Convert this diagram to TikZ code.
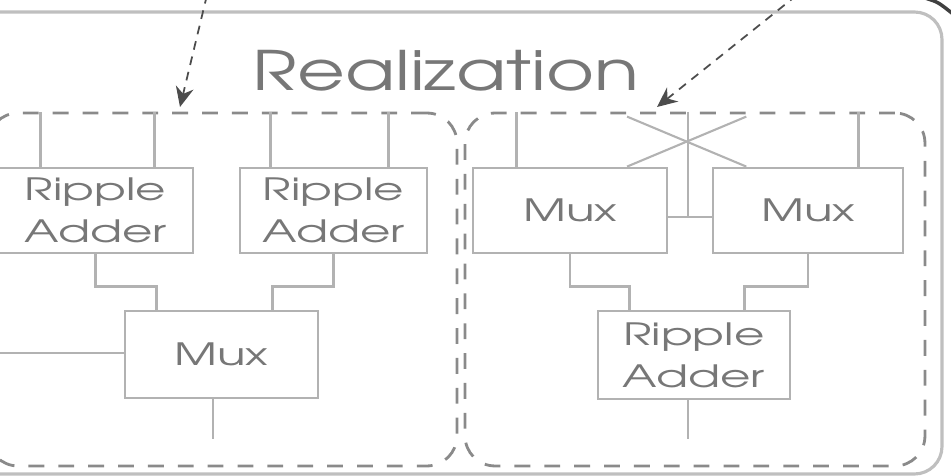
\documentclass[tikz,border=0pt]{standalone}
\usepackage{fontspec}
\setmainfont{TeX Gyre Adventor}
\newfontfamily\blockfont[FakeStretch=1.52]{TeX Gyre Adventor}
\newfontfamily\titlefont[FakeStretch=1.35]{TeX Gyre Adventor}
\usetikzlibrary{arrows.meta, positioning, calc}
\usepackage{xcolor}
\definecolor{boxgray}{HTML}{B2B2B2}
\definecolor{textgray}{HTML}{777777}
\definecolor{dashgray}{HTML}{8A8A8A}
\tikzset{
  block/.style  = {draw=boxgray, line width=1.6pt, fill=white, align=center,
                   text=textgray, font=\blockfont\fontsize{17.5}{24}\selectfont, inner sep=0pt},
  wire/.style   = {draw=boxgray, line width=1.6pt},
  region/.style = {draw=dashgray, line width=1.6pt, dash pattern=on 9pt off 8pt,
                   rounded corners=0.6cm, inner sep=0pt},
  ptr/.style    = {-{Stealth[length=4mm, width=3.6mm]}, draw=black!70,
                   line width=1pt, dash pattern=on 5pt off 4pt},
  outer/.style  = {draw=black!25, line width=1.8pt, rounded corners=0.55cm}
}

\begin{document}
\begin{tikzpicture}[x=0.02cm, y=-0.02cm]
\useasboundingbox (0,0) rectangle (951,476);
\clip (0,0) rectangle (951,476);
\draw[outer] (-40,12) rectangle (942,474);
\draw[black!75, line width=2pt] (925,-2) .. controls (938,2) .. (953,14);
\node[text=textgray, font=\titlefont\fontsize{31}{36}\selectfont] (title) at (446,71) {Realization};
% the two regions
\node[region, minimum width=9.38cm, minimum height=7.06cm] (regl) at (222.5,289.5) {};
\node[region, minimum width=9.2cm, minimum height=7.06cm] (regr) at (695,289.5) {};
% left: two ripple adders into a mux
\node[block, minimum width=3.9cm, minimum height=1.7cm] (ra1) at (95.5,210.5) {Ripple\\Adder};
\node[block, minimum width=3.74cm, minimum height=1.7cm] (ra2) at (333.5,210.5) {Ripple\\Adder};
\node[block, minimum width=3.86cm, minimum height=1.74cm] (muxl) at (221.5,354.5) {Mux};
% right: two muxes into a ripple adder
\node[block, minimum width=3.88cm, minimum height=1.7cm] (muxa) at (570,210.5) {Mux};
\node[block, minimum width=3.8cm, minimum height=1.7cm] (muxb) at (808,210.5) {Mux};
\node[block, minimum width=3.84cm, minimum height=1.76cm] (rab) at (694,355) {Ripple\\Adder};
% inputs from the top
\foreach \b/\f in {ra1/.22, ra1/.8, ra2/.17, ra2/.79, muxa/.23, muxb/.76}
  \draw[wire] ($(\b.north west)!\f!(\b.north east)$) -- ++(0,-55);
\path ($(muxa.north west)!.79!(muxa.north east)$) coordinate (xa)
      ($(muxb.north west)!.18!(muxb.north east)$) coordinate (xb);
\draw[wire, line width=1.2pt] (xa) -- ($(xb)+(0,-50)$);
\draw[wire, line width=1.2pt] (xb) -- ($(xa)+(0,-50)$);
\coordinate (sel) at (688,217);
\draw[wire] (sel |- regr.north) -- (sel);
\draw[wire] (muxa.east |- sel) -- (muxb.west |- sel);
% into the lower boxes
\draw[wire] (ra1.south) -- ++(0,32) -| ($(muxl.north west)!.17!(muxl.north east)$);
\draw[wire] (ra2.south) -- ++(0,32) -| ($(muxl.north west)!.76!(muxl.north east)$);
\draw[wire] (muxa.south) -- ++(0,32) -| ($(rab.north west)!.17!(rab.north east)$);
\draw[wire] (muxb.south) -- ++(0,32) -| ($(rab.north west)!.76!(rab.north east)$);
\coordinate (inl) at (-5,353);
\draw[wire] (inl) -- (inl -| muxl.west);
\coordinate (outl) at (213,439);
\coordinate (outr) at (688,439);
\draw[wire] (outl |- muxl.south) -- (outl);
\draw[wire] (outr |- rab.south) -- (outr);
% pointers from above
\coordinate (pl) at (207,-5);
\coordinate (pr) at (797,-5);
\draw[ptr] (pl) -- (180,107);
\draw[ptr] (pr) -- (657,107);
\end{tikzpicture}
\end{document}
